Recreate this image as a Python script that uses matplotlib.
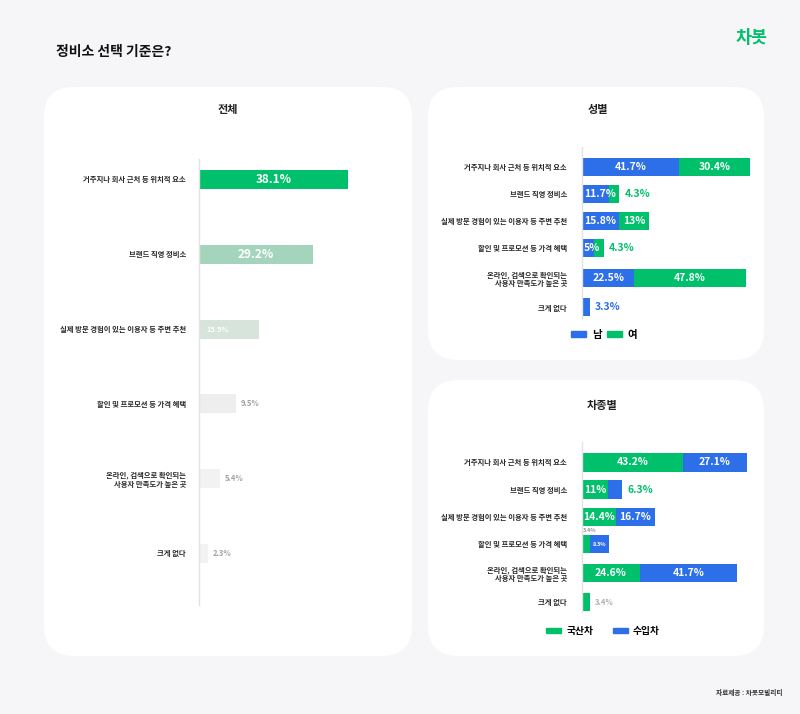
import matplotlib
matplotlib.use('Agg')
import matplotlib.pyplot as plt
from matplotlib.patches import FancyBboxPatch, Patch

plt.rcParams['font.family'] = ['Noto Sans CJK KR', 'DejaVu Sans']

# ---------------- data ----------------
title = '정비소 선택 기준은?'
categories = ['거주지나 회사 근처 등 위치적 요소', '브랜드 직영 정비소',
              '실제 방문 경험이 있는 이용자 등 주변 추천', '할인 및 프로모션 등 가격 혜택',
              '온라인, 검색으로 확인되는\n사용자 만족도가 높은 곳', '크게 없다']
total = [38.1, 29.2, 15.5, 9.5, 5.4, 2.3]
male = [41.7, 11.7, 15.8, 5.0, 22.5, 3.3]
female = [30.4, 4.3, 13.0, 4.3, 47.8, 0.0]
domestic = [43.2, 11.0, 14.4, 3.4, 24.6, 3.4]
imported = [27.1, 6.3, 16.7, 8.3, 41.7, 0.0]
panel_titles = ['전체', '성별', '차종별']
gender_names = ['남', '여']
vehicle_names = ['국산차', '수입차']
logo = '차봇'
source = '자료제공 : 차봇모빌리티'

# ---------------- style ----------------
W, H = 800, 714
BG = '#F6F6F8'
GREEN = '#00C06B'
BLUE = '#2C6FE8'
WHITE = '#FFFFFF'
GRAY = '#A3A3A3'
TXT = '#222222'
AXLINE = '#E2E2E2'
total_colors = ['#00C06B', '#A5D4BD', '#D6E4DB', '#EEEEEE', '#F2F2F2', '#F2F2F2']

fig = plt.figure(figsize=(W / 100, H / 100), dpi=100, facecolor=BG)

bg = fig.add_axes([0, 0, 1, 1])
bg.set_xlim(0, W)
bg.set_ylim(H, 0)
bg.axis('off')
bg.set_zorder(-1)

for (x0, y0, x1, y1) in [(44, 87, 412, 656), (428, 87, 764, 360), (428, 380, 764, 656)]:
    bg.add_patch(FancyBboxPatch((x0, y0), x1 - x0, y1 - y0,
                                boxstyle='round,pad=0,rounding_size=30',
                                fc='white', ec='none'))

bg.text(56, 52, title, fontsize=10, fontweight='bold', color='#111111', ha='left', va='center')
bg.text(752, 38, logo, fontsize=12.5, fontweight='bold', color=GREEN, ha='center', va='center')
bg.text(783, 693, source, fontsize=4.8, fontweight='bold', color='#333333', ha='right', va='center')
bg.text(228, 110, panel_titles[0], fontsize=8, fontweight='bold', color=TXT, ha='center', va='center')
bg.text(598, 110, panel_titles[1], fontsize=8, fontweight='bold', color=TXT, ha='center', va='center')
bg.text(602, 406, panel_titles[2], fontsize=8, fontweight='bold', color=TXT, ha='center', va='center')


def px_axes(x0, y0, x1, y1):
    ax = fig.add_axes([x0 / W, 1 - y1 / H, (x1 - x0) / W, (y1 - y0) / H])
    ax.set_facecolor('none')
    for s in ['top', 'right', 'bottom']:
        ax.spines[s].set_visible(False)
    ax.spines['left'].set_color(AXLINE)
    ax.spines['left'].set_linewidth(1)
    ax.set_xticks([])
    return ax


def fmt(v):
    return f'{v:g}%'


def seg_label(ax, y, start, v, end, style):
    if style is None or v <= 0:
        return
    mode, color, size = style
    if mode == 'center':
        x, ha, dx, dy = start + v / 2, 'center', 0, 0
    elif mode == 'left':
        x, ha, dx, dy = start, 'left', 1.5, 0
    elif mode == 'left_in':
        x, ha, dx, dy = start, 'left', 5, 0
    elif mode == 'above':
        x, ha, dx, dy = start, 'left', 0.5, 10
    else:  # after
        x, ha, dx, dy = end, 'left', 3.6, 0
    ax.annotate(fmt(v), xy=(x, y), xytext=(dx, dy), textcoords='offset points',
                ha=ha, va='center', color=color, fontsize=size, fontweight='bold')


def set_cats(ax, ypos, pad):
    ax.set_yticks(ypos, labels=categories)
    ax.tick_params(axis='y', length=0, pad=pad, labelsize=5.3, labelcolor='#2A2A2A')
    for t in ax.get_yticklabels():
        t.set_fontweight('bold')
        t.set_multialignment('right')


# ---------------- 전체 ----------------
ax1 = px_axes(199, 159, 399, 605)
ypos1 = list(range(len(categories)))
ax1.barh(ypos1, total, height=0.254, color=total_colors)
ax1.set_xlim(0, 200 / 3.9)
ax1.set_ylim(5.69, -0.274)
set_cats(ax1, ypos1, 9.4)
style1 = [('center', WHITE, 8.5), ('center', WHITE, 8.5), ('left_in', WHITE, 5.3),
          ('after', GRAY, 5.5), ('after', GRAY, 5.5), ('after', GRAY, 5.5)]
for y, v, st in zip(ypos1, total, style1):
    seg_label(ax1, y, 0, v, v, st)

# ---------------- 성별 ----------------
ax2 = px_axes(582, 147, 752, 318)
ypos2 = [0, 1, 2, 3, 4.1, 5.2]
ax2.barh(ypos2, male, height=0.667, color=BLUE, label=gender_names[0])
ax2.barh(ypos2, female, left=male, height=0.667, color=GREEN, label=gender_names[1])
ax2.set_xlim(0, 170 / 2.33)
ax2.set_ylim(5.59, -0.74)
set_cats(ax2, ypos2, 10.8)
m_style = [('center', WHITE, 7.5), ('left', WHITE, 7.5), ('center', WHITE, 7.5),
           ('left', WHITE, 7.5), ('center', WHITE, 7.5), ('after', BLUE, 7.5)]
f_style = [('center', WHITE, 7.5), ('after', GREEN, 7.5), ('center', WHITE, 7.5),
           ('after', GREEN, 7.5), ('center', WHITE, 7.5), None]
for y, a, b, sa, sb in zip(ypos2, male, female, m_style, f_style):
    seg_label(ax2, y, 0, a, a + b, sa)
    seg_label(ax2, y, a, b, a + b, sb)

fig.legend(handles=[Patch(color=BLUE, label=gender_names[0]), Patch(color=GREEN, label=gender_names[1])],
           loc='center', bbox_to_anchor=(604 / W, 1 - 335 / H), ncol=2, frameon=False,
           handlelength=1.45, handleheight=0.5, handletextpad=0.55,
           columnspacing=0.5, prop={'weight': 'bold', 'size': 7.5})

# ---------------- 차종별 ----------------
ax3 = px_axes(582, 442, 752, 612)
ypos3 = [0, 1, 2, 3, 4.08, 5.14]
ax3.barh(ypos3, domestic, height=0.67, color=GREEN)
ax3.barh(ypos3, imported, left=domestic, height=0.67, color=BLUE)
ax3.set_xlim(0, 170 / 2.34)
ax3.set_ylim(5.5, -0.75)
set_cats(ax3, ypos3, 10.8)
d_style = [('center', WHITE, 7.5), ('left', WHITE, 7.5), ('center', WHITE, 7.5),
           ('above', '#999999', 4), ('center', WHITE, 7.5), ('after', '#AEAEAE', 5.5)]
i_style = [('center', WHITE, 7.5), ('after', GREEN, 7.5), ('center', WHITE, 7.5),
           ('center', WHITE, 4), ('center', WHITE, 7.5), None]
for y, a, b, sa, sb in zip(ypos3, domestic, imported, d_style, i_style):
    seg_label(ax3, y, 0, a, a + b, sa)
    seg_label(ax3, y, a, b, a + b, sb)

fig.legend(handles=[Patch(color=GREEN, label=vehicle_names[0]), Patch(color=BLUE, label=vehicle_names[1])],
           loc='center', bbox_to_anchor=(603 / W, 1 - 631 / H), ncol=2, frameon=False,
           handlelength=1.55, handleheight=0.5, handletextpad=0.5,
           columnspacing=2.0, prop={'weight': 'bold', 'size': 7})

fig.savefig('out.png', dpi=100, facecolor=BG)
